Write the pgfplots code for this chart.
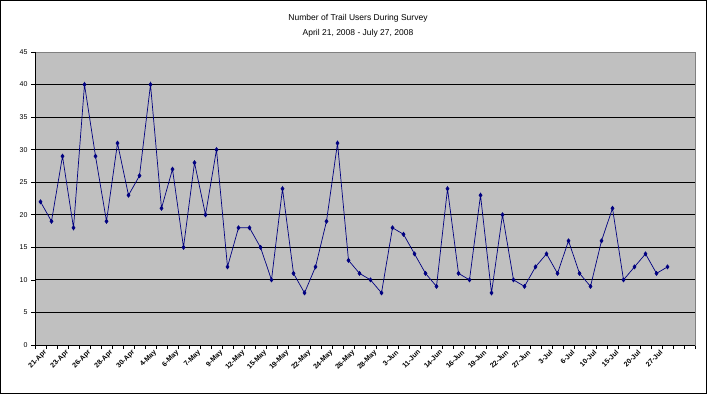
\documentclass[border=0pt]{standalone}
\usepackage{fontspec}
\setmainfont{Liberation Sans}
\usepackage{pgfplots}
\pgfplotsset{compat=1.18}
\definecolor{plotbg}{RGB}{192,192,192}
\definecolor{navy}{RGB}{0,0,128}
\begin{document}
\begin{tikzpicture}
\useasboundingbox (0pt,0pt) rectangle (708pt,-395pt);
\draw[black,line width=1pt] (0.5pt,-0.5pt) rectangle (706.5pt,-393.5pt);
\node[align=center,font=\fontsize{8.5}{15}\selectfont] at (358pt,-26pt) {Number of Trail Users During Survey\\April 21, 2008 - July 27, 2008};
\begin{axis}[
  at={(35pt,-345pt)}, anchor=south west,
  scale only axis, width=660pt, height=293pt,
  xmin=0, xmax=60, ymin=0, ymax=45,
  axis background/.style={fill=plotbg},
  axis line style={draw=gray},
  ytick={0,5,...,45},
  ymajorgrids, grid style={black, line width=0.8pt},
  y tick label style={font=\fontsize{7}{8}\selectfont},
  /pgf/number format/assume math mode=true,
  tick align=outside, major tick length=4pt,
  tick style={black, line width=0.6pt},
  ytick pos=left, xtick pos=bottom,
  xtick={0,1,...,60},
  xticklabels={},
  extra x ticks={0.5,2.5,...,56.5},
  extra x tick labels={21-Apr,23-Apr,26-Apr,28-Apr,30-Apr,4-May,6-May,7-May,9-May,12-May,15-May,19-May,22-May,24-May,26-May,28-May,3-Jun,11-Jun,14-Jun,16-Jun,19-Jun,22-Jun,27-Jun,3-Jul,6-Jul,10-Jul,15-Jul,20-Jul,27-Jul},
  extra x tick style={grid=none, major tick length=0pt,
    tick label style={font=\fontsize{7}{8}\selectfont\bfseries, rotate=45, anchor=north east, inner sep=1pt, yshift=-4pt}},
  clip=false,
]
\addplot[navy, line width=0.7pt, mark=diamond*, mark size=2pt, mark options={fill=navy}] coordinates {
(0.5,22)(1.5,19)(2.5,29)(3.5,18)(4.5,40)(5.5,29)(6.5,19)(7.5,31)(8.5,23)(9.5,26)
(10.5,40)(11.5,21)(12.5,27)(13.5,15)(14.5,28)(15.5,20)(16.5,30)(17.5,12)(18.5,18)(19.5,18)
(20.5,15)(21.5,10)(22.5,24)(23.5,11)(24.5,8)(25.5,12)(26.5,19)(27.5,31)(28.5,13)(29.5,11)
(30.5,10)(31.5,8)(32.5,18)(33.5,17)(34.5,14)(35.5,11)(36.5,9)(37.5,24)(38.5,11)(39.5,10)
(40.5,23)(41.5,8)(42.5,20)(43.5,10)(44.5,9)(45.5,12)(46.5,14)(47.5,11)(48.5,16)(49.5,11)
(50.5,9)(51.5,16)(52.5,21)(53.5,10)(54.5,12)(55.5,14)(56.5,11)(57.5,12)
};
\draw[black, line width=0.8pt] (rel axis cs:0,1) -- (rel axis cs:0,0) -- (rel axis cs:1,0);
\end{axis}
\end{tikzpicture}
\end{document}
